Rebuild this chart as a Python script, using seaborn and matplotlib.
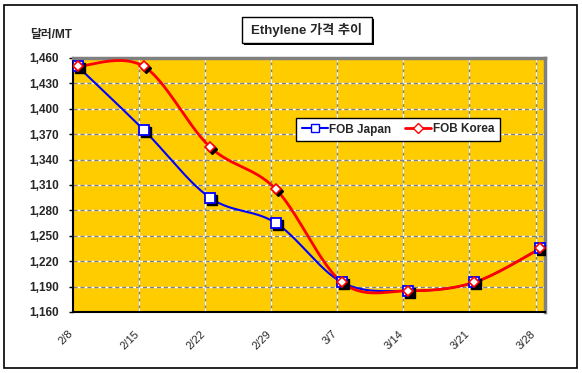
import numpy as np
import pandas as pd
import matplotlib
matplotlib.use('Agg')
import matplotlib.pyplot as plt
import matplotlib.transforms as mtrans
from matplotlib.patches import Rectangle
from matplotlib.lines import Line2D
import seaborn as sns

## DATA
dates = ['2/8', '2/15', '2/22', '2/29', '3/7', '3/14', '3/21', '3/28']
fob_japan = [1450, 1375, 1295, 1265, 1195, 1185, 1195, 1235]
fob_korea = [1450, 1450, 1355, 1305, 1195, 1185, 1195, 1235]
y_ticks = [1160, 1190, 1220, 1250, 1280, 1310, 1340, 1370, 1400, 1430, 1460]

title = 'Ethylene 가격 추이'
unit_label = '달러/MT'

## STYLE
sns.set_style('white')
plt.rcParams['font.family'] = ['Liberation Sans', 'Noto Sans CJK KR', 'DejaVu Sans']


# Excel-like smoothed line (bezier through the points, control = neighbour slope / 6)
def smooth_xy(x, y, n=30):
    x = np.asarray(x, float)
    y = np.asarray(y, float)
    xs, ys = [], []
    for i in range(len(x) - 1):
        p0 = np.array([x[max(i - 1, 0)], y[max(i - 1, 0)]])
        p1 = np.array([x[i], y[i]])
        p2 = np.array([x[i + 1], y[i + 1]])
        p3 = np.array([x[min(i + 2, len(x) - 1)], y[min(i + 2, len(x) - 1)]])
        c1 = p1 + (p2 - p0) / 6
        c2 = p2 - (p3 - p1) / 6
        t = np.linspace(0, 1, n)[:, None]
        seg = (1 - t) ** 3 * p1 + 3 * (1 - t) ** 2 * t * c1 + 3 * (1 - t) * t ** 2 * c2 + t ** 3 * p2
        xs.extend(seg[:, 0])
        ys.extend(seg[:, 1])
    return np.array(xs), np.array(ys)


# weekly dates, point sits in the middle of its day
day = np.arange(len(dates)) * 7
x_pts = day + 0.5

fig = plt.figure(figsize=(5.82, 3.73), dpi=100)
fig.patch.set_facecolor('white')
fig.patches.append(Rectangle((4 / 582, 5 / 373), 573 / 582, 363 / 373, transform=fig.transFigure,
                             fill=False, edgecolor='black', linewidth=1.2))

ax = fig.add_axes([73 / 582, 1 - 312 / 373, 472 / 582, 254 / 373])
ax.set_facecolor('#FFCC00')

# grid
for yv in y_ticks[1:-1]:
    ax.axhline(yv, color='white', linewidth=1, zorder=1)
    ax.axhline(yv, color='#808080', linewidth=1, linestyle=(0, (3, 2)), zorder=1)
for xv in day[1:]:
    ax.axvline(xv, color='#808080', linewidth=1, zorder=1)
    ax.axvline(xv, color='white', linewidth=1, linestyle=(0, (3, 2)), zorder=1)

# smoothed lines
jx, jy = smooth_xy(x_pts, fob_japan)
kx, ky = smooth_xy(x_pts, fob_korea)
sns.lineplot(x=jx, y=jy, sort=False, estimator=None, color='#0000FF', linewidth=1.5, ax=ax, zorder=3)
sns.lineplot(x=kx, y=ky, sort=False, estimator=None, color='#FF0000', linewidth=2, ax=ax, zorder=4)

# markers with drop shadow
shadow = mtrans.offset_copy(ax.transData, fig=fig, x=2, y=-2, units='dots')
ax.plot(x_pts, fob_japan, 's', markersize=6.5, color='black', transform=shadow, zorder=5)
ax.plot(x_pts, fob_japan, 's', markersize=6.5, markerfacecolor='white', markeredgecolor='#0000FF',
        markeredgewidth=1.3, zorder=6)
ax.plot(x_pts, fob_korea, 'D', markersize=5.5, color='black', transform=shadow, zorder=7)
ax.plot(x_pts, fob_korea, 'D', markersize=5.5, markerfacecolor='white', markeredgecolor='#FF0000',
        markeredgewidth=1.2, zorder=8)

ax.set_xlim(0, 50)
ax.set_ylim(1160, 1460)
ax.set_yticks(y_ticks)
ax.set_yticklabels(['{:,}'.format(v) for v in y_ticks], fontsize=8.5, fontweight='bold')
ax.set_xticks(day)
ax.set_xticklabels(dates, fontsize=8, rotation=45, ha='right', rotation_mode='anchor')
ax.tick_params(axis='y', length=3, width=1, color='black', pad=7, direction='out', left=True)
ax.tick_params(axis='x', length=0, pad=12)
shift = mtrans.ScaledTranslation(-5 / 100, 0, fig.dpi_scale_trans)
for lbl in ax.get_xticklabels():
    lbl.set_transform(lbl.get_transform() + shift)
ax.set_xlabel('')
ax.set_ylabel('')

for side in ['left', 'bottom']:
    ax.spines[side].set_color('black')
    ax.spines[side].set_linewidth(1.5)
for side in ['top', 'right']:
    ax.spines[side].set_color('#808080')
    ax.spines[side].set_linewidth(2.5)

# legend
handles = [Line2D([], [], color='#0000FF', linewidth=1.5, marker='s', markersize=6,
                  markerfacecolor='white', markeredgecolor='#0000FF'),
           Line2D([], [], color='#FF0000', linewidth=2, marker='D', markersize=5,
                  markerfacecolor='white', markeredgecolor='#FF0000')]
leg = fig.legend(handles, ['FOB Japan', 'FOB Korea'], loc='center', ncol=2,
                 bbox_to_anchor=(398 / 582, 1 - 129.5 / 373), frameon=True, fancybox=False,
                 prop={'weight': 'bold', 'size': 8.5}, handlelength=2.2, handletextpad=0.1,
                 columnspacing=1.2, borderpad=0.5, borderaxespad=0, framealpha=1)
leg.get_frame().set_edgecolor('black')
leg.get_frame().set_facecolor('white')
leg.get_frame().set_linewidth(1)
leg.set_zorder(20)

# title box with shadow
fig.patches.append(Rectangle((244 / 582, 1 - 45 / 373), 130 / 582, 26 / 373, transform=fig.transFigure,
                             facecolor='black', edgecolor='none'))
fig.patches.append(Rectangle((242 / 582, 1 - 43 / 373), 130 / 582, 26 / 373, transform=fig.transFigure,
                             facecolor='white', edgecolor='black', linewidth=1))
fig.text(307 / 582, 1 - 30 / 373, title, ha='center', va='center', fontsize=9.5, fontweight='bold')

fig.text(30 / 582, 1 - 35 / 373, unit_label, ha='left', va='center', fontsize=8.5, fontweight='bold')

fig.savefig('out.png', dpi=100)
